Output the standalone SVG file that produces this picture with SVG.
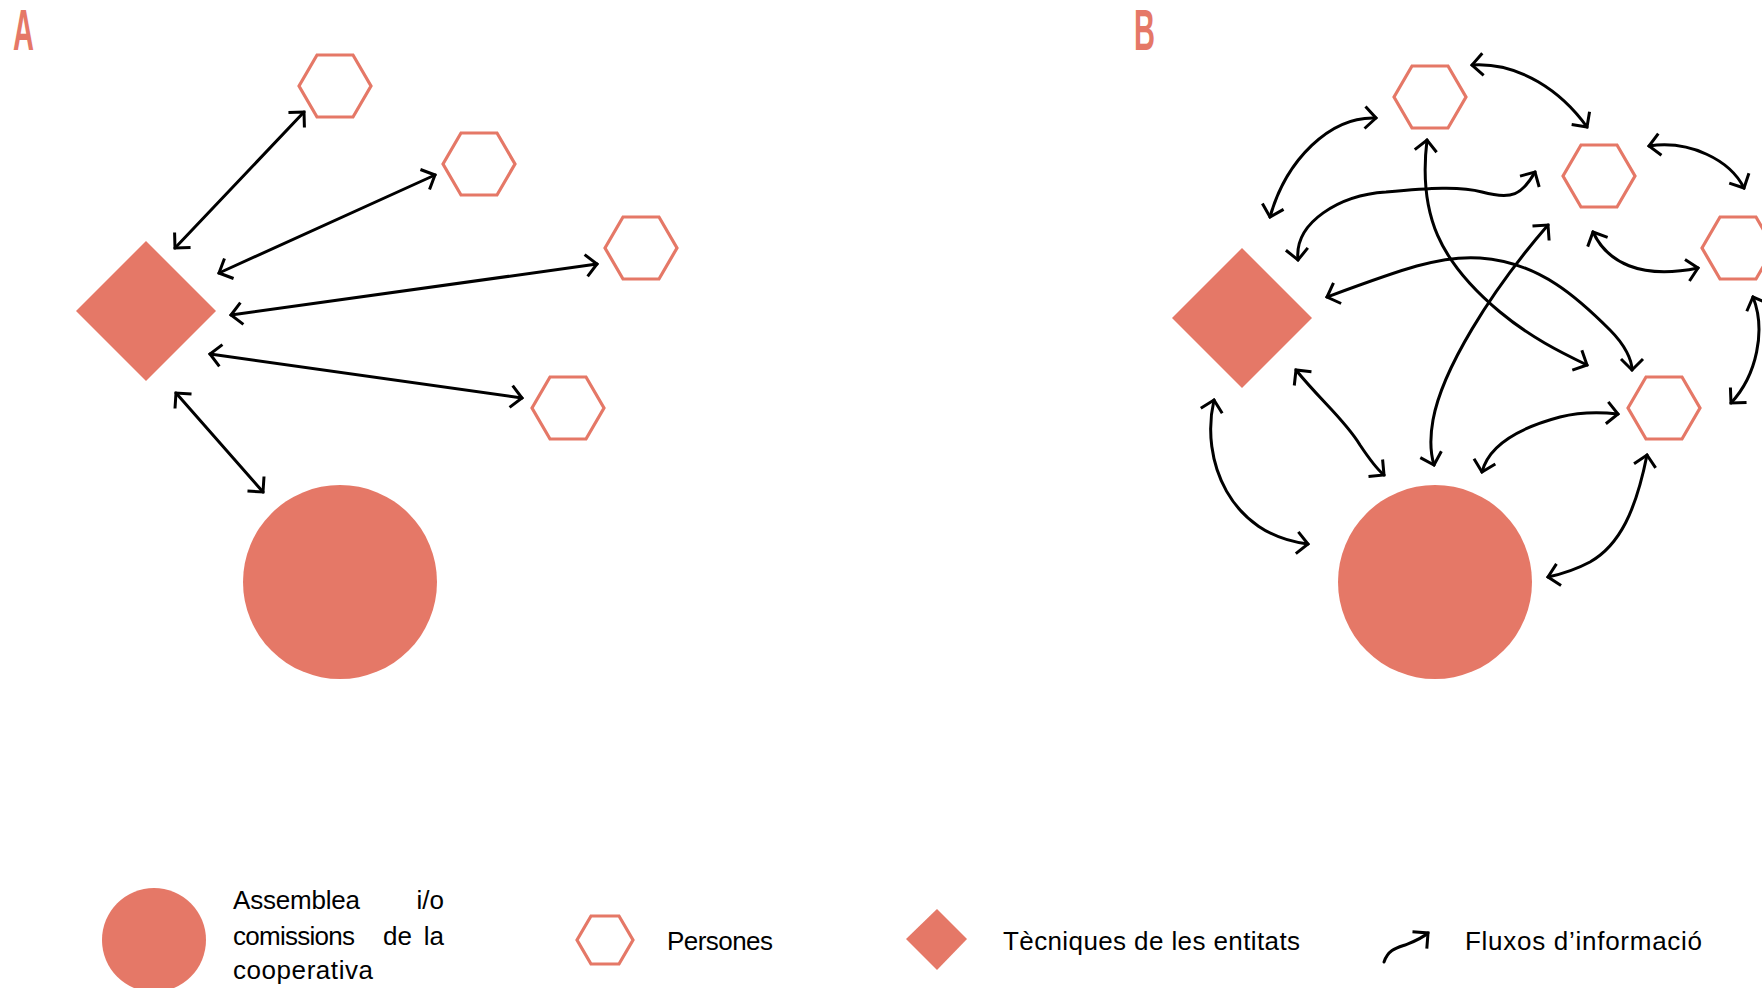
<svg xmlns="http://www.w3.org/2000/svg" xmlns:xlink="http://www.w3.org/1999/xlink" width="1762" height="988" viewBox="0 0 1762 988">
<style>
  .node { fill: #E57867; }
  .hex { fill: none; stroke: #E57867; stroke-width: 3.2; }
  .conn { fill: none; stroke: #000; stroke-width: 3; stroke-linecap: round; }
  .letter { font-family: "Liberation Sans", sans-serif; font-size: 58px; font-weight: bold; fill: #E57867; }
  .lbl { font-family: "Liberation Sans", "Noto Sans", sans-serif; font-size: 26px; fill: #000; }
</style>
<defs>
  <marker id="ah" markerUnits="userSpaceOnUse" orient="auto-start-reverse" overflow="visible" refX="0" refY="0" markerWidth="30" markerHeight="30">
    <path d="M-11,-11 L0,0 L-11,11" fill="none" stroke="#000" stroke-width="3" stroke-linecap="butt" stroke-linejoin="miter"/>
  </marker>
  <polygon id="hexshape" points="-36,0 -18,-31 18,-31 36,0 18,31 -18,31"/>
</defs>
<rect width="1762" height="988" fill="#fff"/>

<g id="label-A"><text class="letter" transform="translate(13,50) scale(0.5,1)">A</text></g>
<g id="label-B"><text class="letter" transform="translate(1134,50) scale(0.5,1)">B</text></g>

<!-- Panel A -->
<g id="A-diamond"><polygon class="node" points="76,311 146,241 216,311 146,381"/></g>
<g id="A-circle"><circle class="node" cx="340" cy="582" r="97"/></g>
<g id="A-p1"><use xlink:href="#hexshape" class="hex" x="335" y="86"/></g>
<g id="A-p2"><use xlink:href="#hexshape" class="hex" x="479" y="164"/></g>
<g id="A-p3"><use xlink:href="#hexshape" class="hex" x="641" y="248"/></g>
<g id="A-p4"><use xlink:href="#hexshape" class="hex" x="568" y="408"/></g>

<g id="A-connectors">
  <line class="conn" x1="175" y1="248" x2="304" y2="112" marker-start="url(#ah)" marker-end="url(#ah)"/>
  <line class="conn" x1="219" y1="273" x2="435" y2="175" marker-start="url(#ah)" marker-end="url(#ah)"/>
  <line class="conn" x1="231" y1="315" x2="597" y2="264" marker-start="url(#ah)" marker-end="url(#ah)"/>
  <line class="conn" x1="210" y1="354" x2="522" y2="398" marker-start="url(#ah)" marker-end="url(#ah)"/>
  <line class="conn" x1="176" y1="393" x2="263" y2="492" marker-start="url(#ah)" marker-end="url(#ah)"/>
</g>

<!-- Panel B -->
<g id="B-diamond"><polygon class="node" points="1172,318 1242,248 1312,318 1242,388"/></g>
<g id="B-circle"><circle class="node" cx="1435" cy="582" r="97"/></g>
<g id="B-p1"><use xlink:href="#hexshape" class="hex" x="1430" y="97"/></g>
<g id="B-p2"><use xlink:href="#hexshape" class="hex" x="1599" y="176"/></g>
<g id="B-p3"><use xlink:href="#hexshape" class="hex" x="1738" y="248"/></g>
<g id="B-p4"><use xlink:href="#hexshape" class="hex" x="1664" y="408"/></g>

<g id="B-connectors">
  <path class="conn" d="M1376,118 C1330,116 1286,160 1270,217" marker-start="url(#ah)" marker-end="url(#ah)"/>
  <path class="conn" d="M1472,65 C1520,62 1562,92 1587,127" marker-start="url(#ah)" marker-end="url(#ah)"/>
  <path class="conn" d="M1649,146 C1690,140 1730,160 1744,188" marker-start="url(#ah)" marker-end="url(#ah)"/>
  <path class="conn" d="M1593,232 C1607,262 1640,280 1698,268" marker-start="url(#ah)" marker-end="url(#ah)"/>
  <path class="conn" d="M1753,297 C1766,330 1757,375 1731,403" marker-start="url(#ah)" marker-end="url(#ah)"/>
  <path class="conn" d="M1298,260 C1294,222 1340,195 1386,192 C1430,188 1460,186 1482,192 C1512,200 1522,195 1535,172" marker-start="url(#ah)" marker-end="url(#ah)"/>
  <path class="conn" d="M1427,140 C1418,215 1440,262 1500,312 C1530,337 1560,352 1587,365" marker-start="url(#ah)" marker-end="url(#ah)"/>
  <path class="conn" d="M1327,297 C1400,270 1440,255 1480,258 C1540,262 1580,300 1610,330 C1625,345 1632,360 1632,370" marker-start="url(#ah)" marker-end="url(#ah)"/>
  <path class="conn" d="M1548,225 C1490,292 1442,370 1433,420 C1429,442 1431,455 1434,465" marker-start="url(#ah)" marker-end="url(#ah)"/>
  <path class="conn" d="M1296,370 C1320,400 1345,420 1360,445 C1370,460 1378,470 1384,475" marker-start="url(#ah)" marker-end="url(#ah)"/>
  <path class="conn" d="M1214,400 C1200,460 1230,535 1308,544" marker-start="url(#ah)" marker-end="url(#ah)"/>
  <path class="conn" d="M1482,472 C1490,440 1530,425 1560,417 C1580,412 1600,412 1618,414" marker-start="url(#ah)" marker-end="url(#ah)"/>
  <path class="conn" d="M1647,455 C1636,510 1620,545 1590,562 C1575,570 1562,574 1548,577" marker-start="url(#ah)" marker-end="url(#ah)"/>
</g>

<!-- Legend -->
<g id="legend-assemblea">
  <circle class="node" cx="154" cy="940" r="52"/>
  <text class="lbl" x="233" y="909" textLength="127">Assemblea</text>
  <text class="lbl" x="444" y="909" text-anchor="end">i/o</text>
  <text class="lbl" x="233" y="945" textLength="122">comissions</text>
  <text class="lbl" x="383" y="945">de</text>
  <text class="lbl" x="444" y="945" text-anchor="end">la</text>
  <text class="lbl" x="233" y="979" textLength="140">cooperativa</text>
</g>
<g id="legend-persones">
  <polygon class="hex" points="577,940 591,916 619,916 633,940 619,964 591,964"/>
  <text class="lbl" x="667" y="950" textLength="106">Persones</text>
</g>
<g id="legend-tecniques">
  <polygon class="node" points="906,939 937,909 967,939 937,970"/>
  <text class="lbl" x="1003" y="950" textLength="297">Tècniques de les entitats</text>
</g>
<g id="legend-fluxos">
  <path class="conn" d="M1384,962 C1388,950 1396,948 1405,945 C1415,941 1421,939 1428,933" marker-end="url(#ah)"/>
  <text class="lbl" x="1465" y="950" textLength="237">Fluxos d’informació</text>
</g>
</svg>
